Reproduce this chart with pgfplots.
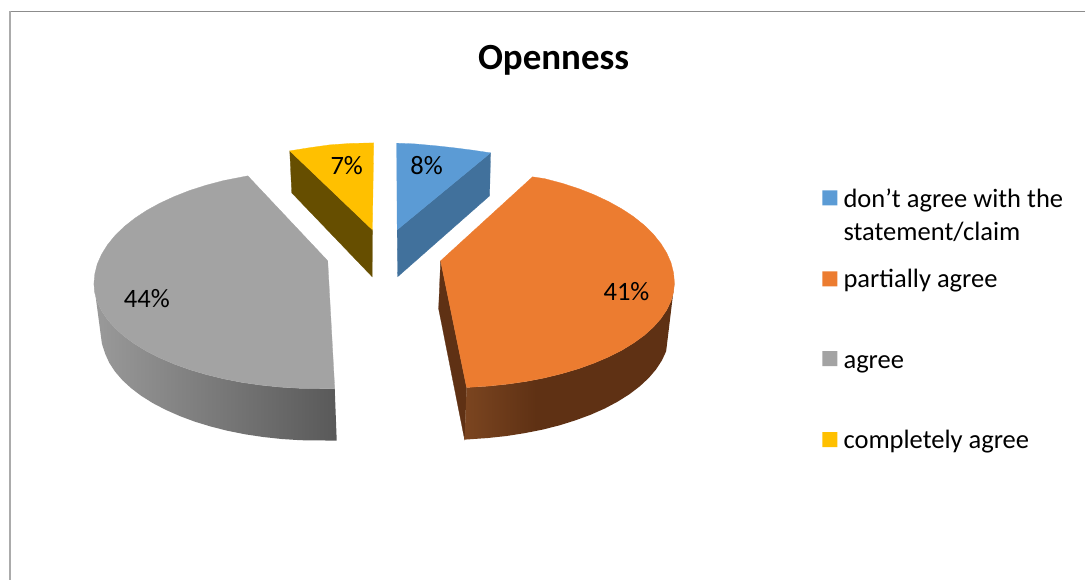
\documentclass[border=0pt]{standalone}
\usepackage{pgfplots}
\pgfplotsset{compat=1.18}
\usepackage{fontspec}
\setmainfont{Carlito}
\definecolor{cblue}{HTML}{5B9BD5}
\definecolor{cblueS}{HTML}{41719C}
\definecolor{corange}{HTML}{EC7C30}
\definecolor{corangeS}{HTML}{5F3114}
\definecolor{corangeL}{HTML}{7B4520}
\definecolor{cgray}{HTML}{A3A3A3}
\definecolor{cgrayL}{HTML}{9A9A9A}
\definecolor{cgrayD}{HTML}{595959}
\definecolor{cyellow}{HTML}{FFC000}
\definecolor{cyellowS}{HTML}{664E00}
\pgfdeclarehorizontalshading{orangeside}{100bp}{color(0bp)=(corangeL); color(25bp)=(corangeL); color(42bp)=(corangeS); color(100bp)=(corangeS)}
\newcommand{\lab}{\fontsize{19.9}{22}\selectfont}
\begin{document}
\begin{tikzpicture}
\begin{axis}[
  scale only axis, width=814.5pt, height=435pt,
  xmin=0, xmax=1086, ymin=-1, ymax=579, y dir=reverse,
  hide axis, clip=false,
  every node/.append style={text=black}
]
% picture extent
\addplot[draw=white, line width=0pt] coordinates {(0,-1) (1086,-1) (1086,579) (0,579) (0,-1)};
% frame
\addplot[draw=black!45, line width=1.4pt] coordinates {(1086,10.5) (10,10.5)};
\addplot[draw=black!33, line width=1.5pt] coordinates {(10,10) (10,579)};
% yellow
\addplot[fill=cyellowS, draw=cyellowS, line width=0.2pt] coordinates {(290,150) (292,192) (372.5,276) (372.7,229) (290,150)};
\addplot[fill=cyellow, draw=cyellow, line width=0.2pt] coordinates {(374,142) (350,142.6) (330,144) (310,146.8) (290,150) (372.7,229) (374,142)};
% blue
\addplot[fill=cblueS, draw=cblueS, line width=0.2pt] coordinates {(491,152) (490,195) (398,276) (397.5,229) (491,152)};
\addplot[fill=cblue, draw=cblue, line width=0.2pt] coordinates {(397,142.3) (415,143) (437,145) (455,147) (473,149.3) (491,152) (397.5,229) (397,142.3)};
% orange
\addplot[fill=corangeS, draw=corangeS, line width=0.2pt] coordinates {(441,260) (467,387) (465,439) (439,308) (441,260)};
\addplot[draw=none, shading=orangeside] coordinates {
 (675,282) (674.1,291.2) (671.6,300.2) (667.3,309.2) (661.4,317.9) (653.9,326.4) (644.9,334.5) (634.3,342.2) (622.4,349.5) (609.1,356.2) (594.6,362.4) (579.1,368) (562.5,372.9) (545.1,377.2) (527,380.7) (508.2,383.4) (489,385.4) (467,386.8)
 (465,439) (488.2,437.4) (506.9,435.4) (525.2,432.5) (543,429) (560,424.7) (576.2,419.6) (591.4,414) (605.6,407.7) (618.5,400.8) (630.2,393.4) (640.5,385.5) (649.4,377.2) (656.7,368.6) (662.5,359.7) (666.7,350.6) (668,340) (675,282)};
\addplot[fill=corange, draw=corange, line width=0.2pt] coordinates {
 (441,260) (533,176) (545.1,177.8) (562.5,182.4) (579.1,187.8) (594.6,193.9) (609.1,200.7) (622.4,208.1) (634.3,216) (644.9,224.5) (653.9,233.4) (661.4,242.7) (667.3,252.2) (671.6,262) (674.1,272) (675,282)
 (674.1,291.2) (671.6,300.2) (667.3,309.2) (661.4,317.9) (653.9,326.4) (644.9,334.5) (634.3,342.2) (622.4,349.5) (609.1,356.2) (594.6,362.4) (579.1,368) (562.5,372.9) (545.1,377.2) (527,380.7) (508.2,383.4) (489,385.4) (467,386.8) (441,260)};
% gray
\addplot[draw=none, shade, left color=cgrayL, right color=cgrayD] coordinates {
 (94,283) (94.9,292.2) (97.4,301.2) (101.7,310.2) (107.6,318.9) (115.1,327.4) (124.1,335.5) (134.7,343.2) (146.6,350.5) (159.9,357.2) (174.4,363.4) (189.9,369) (206.5,373.9) (223.9,378.2) (242,381.7) (260.8,384.4) (280,386.4) (299.4,387.6) (335,388)
 (337,440) (301,439.6) (282.1,438.4) (263.6,436.4) (245.4,433.7) (227.9,430.2) (211,425.9) (194.9,421) (179.9,415.4) (165.9,409.2) (153,402.5) (141.4,395.2) (131.2,387.5) (122.4,379.4) (115.1,370.9) (109.4,362.2) (105.3,353.2) (102,343) (94,283)};
\addplot[fill=cgray, draw=cgray, line width=0.2pt] coordinates {
 (328,260) (248,175) (223.9,179.7) (206.5,184.3) (189.9,189.6) (174.4,195.7) (159.9,202.4) (146.6,209.7) (134.7,217.6) (124.1,226) (115.1,234.8) (107.6,244) (101.7,253.5) (97.4,263.2) (94.9,273.1) (94,283)
 (94.9,292.2) (97.4,301.2) (101.7,310.2) (107.6,318.9) (115.1,327.4) (124.1,335.5) (134.7,343.2) (146.6,350.5) (159.9,357.2) (174.4,363.4) (189.9,369) (206.5,373.9) (223.9,378.2) (242,381.7) (260.8,384.4) (280,386.4) (299.4,387.6) (335,388) (328,260)};
% legend keys
\addplot[fill=cblue, draw=none] coordinates {(823,189.5) (838,189.5) (838,204.5) (823,204.5) (823,189.5)};
\addplot[fill=corange, draw=none] coordinates {(823,270.5) (838,270.5) (838,285.5) (823,285.5) (823,270.5)};
\addplot[fill=cgray, draw=none] coordinates {(823,350.5) (838,350.5) (838,365.5) (823,365.5) (823,350.5)};
\addplot[fill=cyellow, draw=none] coordinates {(823,431.5) (838,431.5) (838,446.5) (823,446.5) (823,431.5)};
% title and labels
\node[anchor=base, inner sep=0pt, font=\fontsize{27.7}{30}\selectfont\bfseries] at (axis cs:554,69) {Openness};
\node[anchor=base, inner sep=0pt, font=\lab] at (axis cs:427,174) {8\%};
\node[anchor=base, inner sep=0pt, font=\lab] at (axis cs:347,174) {7\%};
\node[anchor=base, inner sep=0pt, font=\lab] at (axis cs:147,307) {44\%};
\node[anchor=base, inner sep=0pt, font=\lab] at (axis cs:627,300) {41\%};
\node[anchor=base west, inner sep=0pt, font=\lab] at (axis cs:844,206.5) {don’t agree with the};
\node[anchor=base west, inner sep=0pt, font=\lab] at (axis cs:844,239.5) {statement/claim};
\node[anchor=base west, inner sep=0pt, font=\lab] at (axis cs:844,286.5) {partially agree};
\node[anchor=base west, inner sep=0pt, font=\lab] at (axis cs:844,367.5) {agree};
\node[anchor=base west, inner sep=0pt, font=\lab] at (axis cs:844,447.5) {completely agree};
\end{axis}
\end{tikzpicture}
\end{document}
